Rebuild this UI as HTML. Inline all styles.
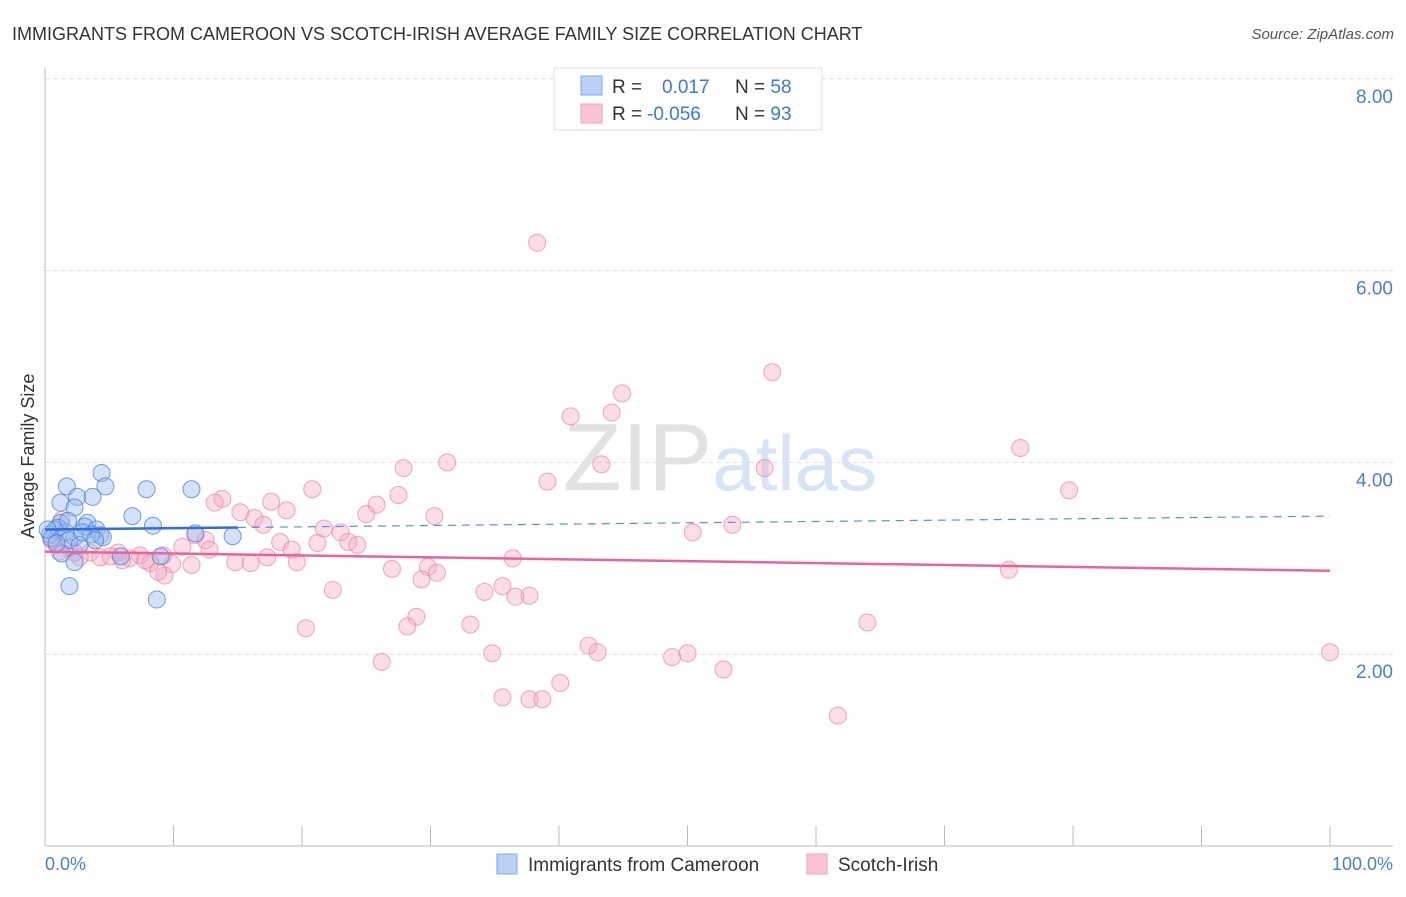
<!DOCTYPE html>
<html><head><meta charset="utf-8"><style>
body{margin:0;background:#fff;font-family:"Liberation Sans",sans-serif}
svg text{font-family:"Liberation Sans",sans-serif}
</style></head><body>
<svg width="1406" height="892" xmlns="http://www.w3.org/2000/svg">
<text x="12" y="40" font-size="18" fill="#333">IMMIGRANTS FROM CAMEROON VS SCOTCH-IRISH AVERAGE FAMILY SIZE CORRELATION CHART</text>
<text x="1394" y="39" font-size="15" fill="#555" font-style="italic" text-anchor="end">Source: ZipAtlas.com</text>
<text x="720" y="490" font-size="96" fill="#e4e4e4" text-anchor="middle" font-family="Liberation Serif"><tspan fill="#e2e2e2">ZIP</tspan><tspan fill="#d6e4f5" font-family="Liberation Sans" font-size="78">atlas</tspan></text>
<g id="grid"></g>
<g id="axes"></g>
<text transform="translate(34,456) rotate(-90)" font-size="18" fill="#333" text-anchor="middle">Average Family Size</text>
<text x="45" y="870" font-size="18" fill="#4a7fd4">0.0%</text>
<text x="1393" y="870" font-size="18" fill="#4a7fd4" text-anchor="end">100.0%</text>
<g id="pts"></g>
<g id="trends"></g>
<g>
<rect x="554" y="68" width="268" height="62" fill="#fff" stroke="#ddd"/>
<rect x="581" y="76" width="21" height="19" fill="#b8d0f5" stroke="#7fa8e8"/>
<rect x="581" y="104" width="21" height="19" fill="#f9c5d5" stroke="#f0a0bb"/>
<text x="612" y="93" font-size="19" fill="#333">R = <tspan x="662" fill="#3c78d8">0.017</tspan><tspan x="735" fill="#333">N = </tspan><tspan fill="#3c78d8">58</tspan></text>
<text x="612" y="120" font-size="19" fill="#333">R = <tspan x="647" fill="#3c78d8">-0.056</tspan><tspan x="735" fill="#333">N = </tspan><tspan fill="#3c78d8">93</tspan></text>
</g>
<g>
<rect x="497" y="854" width="20" height="20" fill="#b8d0f5" stroke="#7fa8e8"/>
<text x="528" y="871" font-size="19" fill="#333">Immigrants from Cameroon</text>
<rect x="807" y="854" width="20" height="20" fill="#f9c5d5" stroke="#f0a0bb"/>
<text x="838" y="871" font-size="19" fill="#333">Scotch-Irish</text>
</g>
</svg>
<script>
const yTicks=[2,4,6,8];
const yTickLabels=["2.00","4.00","6.00","8.00"];
const xTicks=[0,10,20,30,40,50,60,70,80,90,100];
const blueX=[1.7,4.4,4.7,3.7,2.5,7.9,11.4,1.2,2.3,6.8,8.4,11.7,14.6,3.3,3.1,4.0,1.2,0.8,0.4,1.6,2.3,4.3,4.5,1.9,2.7,1.3,2.3,9.0,5.9,1.9,8.7,0.5,1.0,1.8,3.6,0.2,0.9,2.9,3.9];
const blueY=[3.75,3.89,3.75,3.64,3.64,3.72,3.72,3.58,3.53,3.44,3.34,3.26,3.23,3.37,3.33,3.30,3.37,3.30,3.25,3.27,3.22,3.24,3.22,3.19,3.14,3.05,2.96,3.02,3.02,2.71,2.57,3.21,3.32,3.39,3.25,3.30,3.16,3.27,3.19];
const pinkX=[38.3,56.6,44.9,40.9,44.1,75.9,31.3,27.9,43.3,56.0,39.1,79.7,20.8,13.8,13.2,17.6,27.5,25.8,15.2,18.8,25.0,30.3,16.3,17.0,21.7,23.0,53.5,50.4,11.7,12.5,18.3,21.2,23.6,24.3,10.7,12.8,19.2,1.1,3.5,5.7,7.4,9.2,17.3,36.4,4.3,6.6,14.8,19.6,8.2,9.9,11.4,16.0,29.8,27.0,30.5,75.0,29.3,9.3,35.6,22.4,34.2,37.7,36.6,28.9,28.2,33.1,20.3,64.0,42.3,43.0,34.8,50.0,48.8,100,26.2,52.8,40.1,35.6,37.7,38.7,61.7,0.9,1.9,2.7,5.1,6.0,1.3,0.5,2.3,7.8,8.8];
const pinkY=[6.29,4.94,4.72,4.48,4.52,4.15,4.0,3.94,3.98,3.94,3.80,3.71,3.72,3.62,3.58,3.59,3.66,3.56,3.48,3.50,3.46,3.44,3.42,3.35,3.31,3.27,3.35,3.27,3.24,3.19,3.17,3.16,3.17,3.14,3.12,3.09,3.09,3.07,3.06,3.06,3.03,3.03,3.01,3.00,3.01,3.00,2.96,2.96,2.95,2.94,2.93,2.95,2.91,2.89,2.85,2.88,2.78,2.82,2.71,2.67,2.65,2.61,2.60,2.39,2.29,2.31,2.27,2.33,2.09,2.02,2.01,2.01,1.97,2.02,1.92,1.84,1.70,1.55,1.53,1.53,1.36,3.14,3.11,3.01,3.02,2.98,3.40,3.19,3.06,2.98,2.86];
const blueTrend=[3.30,3.44];
const pinkTrend=[3.07,2.87];
const NS="http://www.w3.org/2000/svg";
const xS=v=>45+v*12.85;
const yS=v=>846-v*95.9;
function mk(t,a,p){const e=document.createElementNS(NS,t);for(const k in a)e.setAttribute(k,a[k]);p.appendChild(e);return e;}
const grid=document.getElementById('grid');
yTicks.forEach((t,i)=>{
 const l=mk('line',{x1:45,x2:1393,y1:yS(t),y2:yS(t),stroke:'#ddd','stroke-dasharray':'4,4'},grid);
 
 
 const tx=mk('text',{x:1393,y:yS(t)+24,'font-size':19,fill:'#4a7fd4','text-anchor':'end'},grid);
 tx.textContent=yTickLabels[i];
 
 
});
const ax=document.getElementById('axes');
const la=mk('line',{x1:45,x2:45,y1:68,y2:846,stroke:'#bbb'},ax);


const ba=mk('line',{x1:45,x2:1393,y1:846,y2:846,stroke:'#bbb'},ax);


xTicks.forEach(t=>{
 const l=mk('line',{x1:xS(t),x2:xS(t),y1:826,y2:846,stroke:'#bbb'},ax);
 
 
});
const pts=document.getElementById('pts');
pinkX.forEach((x,i)=>{
 const c=mk('circle',{cx:xS(x),cy:yS(pinkY[i]),r:8.5,fill:'rgba(245,165,192,0.38)',stroke:'rgba(235,130,165,0.7)','stroke-width':1},pts);
 
 
});
blueX.forEach((x,i)=>{
 const c=mk('circle',{cx:xS(x),cy:yS(blueY[i]),r:8.5,fill:'rgba(150,185,240,0.42)',stroke:'rgba(70,125,215,0.75)','stroke-width':1},pts);
 
 
});
const tr=document.getElementById('trends');
const bAt=x=>blueTrend[0]+(blueTrend[1]-blueTrend[0])*x/100;
const b1=mk('line',{x1:xS(0),x2:xS(15),y1:yS(bAt(0)),y2:yS(bAt(15)),stroke:'#2f6fd6','stroke-width':2.5},tr);


const b2=mk('line',{x1:xS(15),x2:xS(100),y1:yS(bAt(15)),y2:yS(bAt(100)),stroke:'#5a8fe0','stroke-width':1.2,'stroke-dasharray':'8,6'},tr);


const p1=mk('line',{x1:xS(0),x2:xS(100),y1:yS(pinkTrend[0]),y2:yS(pinkTrend[1]),stroke:'#e8649a','stroke-width':2.5},tr);


</script>
</body></html>
